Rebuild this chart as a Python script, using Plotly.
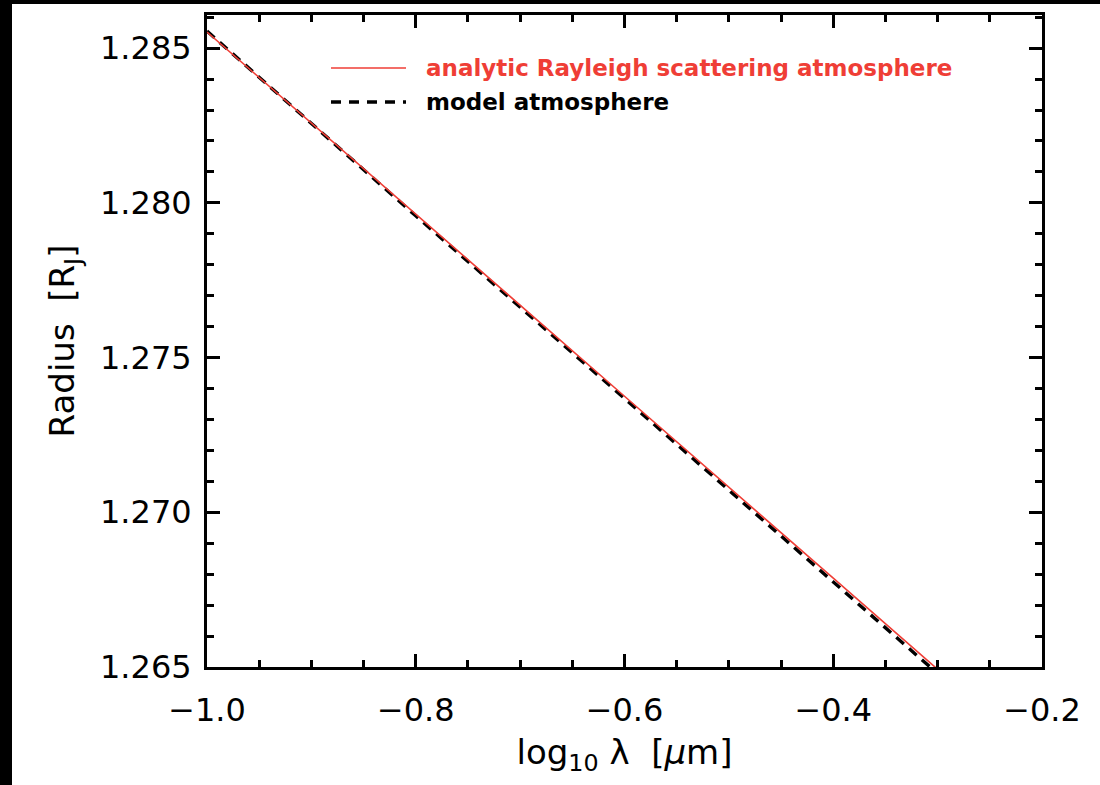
import plotly.graph_objects as go

# Data
log_lambda = [-1.0, -0.8, -0.6, -0.4, -0.2]
radius_analytic = [1.28552, 1.27962, 1.27375, 1.26787, 1.26198]
radius_model = [1.28555, 1.27958, 1.27368, 1.26776, 1.26182]

x_ticks = [-1.0, -0.8, -0.6, -0.4, -0.2]
x_ticklabels = ["\u22121.0", "\u22120.8", "\u22120.6", "\u22120.4", "\u22120.2"]
y_ticks = [1.265, 1.270, 1.275, 1.280, 1.285]
y_ticklabels = ["1.265", "1.270", "1.275", "1.280", "1.285"]

FONT = "DejaVu Sans"
RED = "#EF3E36"

fig = go.Figure()
fig.add_trace(go.Scatter(
    x=log_lambda, y=radius_model, mode="lines",
    line=dict(color="black", width=3.4, dash="10px,7px"),
    name="model atmosphere", showlegend=False,
))
fig.add_trace(go.Scatter(
    x=log_lambda, y=radius_analytic, mode="lines",
    line=dict(color=RED, width=1.6),
    name="analytic Rayleigh scattering atmosphere", showlegend=False,
))

# Legend (line samples + labels)
fig.add_shape(type="line", xref="paper", yref="paper",
              x0=(331 - 207) / 835, x1=(406 - 207) / 835,
              y0=(667 - 68) / 652, y1=(667 - 68) / 652,
              line=dict(color=RED, width=1.6))
fig.add_shape(type="line", xref="paper", yref="paper",
              x0=(331 - 207) / 835, x1=(406 - 207) / 835,
              y0=(667 - 102) / 652, y1=(667 - 102) / 652,
              line=dict(color="black", width=3.4, dash="10px,8px"))
fig.add_annotation(xref="paper", yref="paper", x=(424 - 207) / 835, y=(667 - 68) / 652,
                   xanchor="left", yanchor="middle", showarrow=False,
                   text="<b>analytic Rayleigh scattering atmosphere</b>",
                   font=dict(family=FONT, size=23, color=RED))
fig.add_annotation(xref="paper", yref="paper", x=(424 - 207) / 835, y=(667 - 102) / 652,
                   xanchor="left", yanchor="middle", showarrow=False,
                   text="<b>model atmosphere</b>",
                   font=dict(family=FONT, size=23, color="black"))

# black frame bands at top/left of the image
fig.add_shape(type="rect", xref="paper", yref="paper", layer="below",
              x0=(12 - 207) / 835, x1=1.2, y0=-0.3, y1=(667 - 4) / 652,
              fillcolor="white", line=dict(width=0))

axis_common = dict(
    showline=True, linecolor="black", linewidth=3, mirror="allticks",
    ticks="inside", ticklen=13, tickwidth=3, tickcolor="black",
    showgrid=False, zeroline=False,
    tickfont=dict(family=FONT, size=32, color="black"),
)

fig.update_xaxes(
    range=[-1.0, -0.2], tickvals=x_ticks, ticktext=x_ticklabels,
    minor=dict(dtick=0.05, tick0=-1.0, ticks="inside", ticklen=7, tickwidth=3, tickcolor="black"),
    title=dict(text="log<sub>10</sub> \u03bb  [<i>\u03bc</i>m]", font=dict(family=FONT, size=34, color="black"), standoff=12),
    ticklabelstandoff=13,
    **axis_common,
)
fig.update_yaxes(
    range=[1.265, 1.28607], tickvals=y_ticks, ticktext=y_ticklabels,
    minor=dict(dtick=0.001, tick0=1.265, ticks="inside", ticklen=7, tickwidth=3, tickcolor="black"),
    title=dict(text="Radius  [R<sub>J</sub>]", font=dict(family=FONT, size=34, color="black"), standoff=16),
    ticklabelstandoff=6,
    **axis_common,
)

fig.update_layout(
    width=1100, height=785,
    margin=dict(l=207, r=58, t=15, b=118),
    paper_bgcolor="black", plot_bgcolor="white",
    showlegend=False,
)

fig.write_html("out.html")
